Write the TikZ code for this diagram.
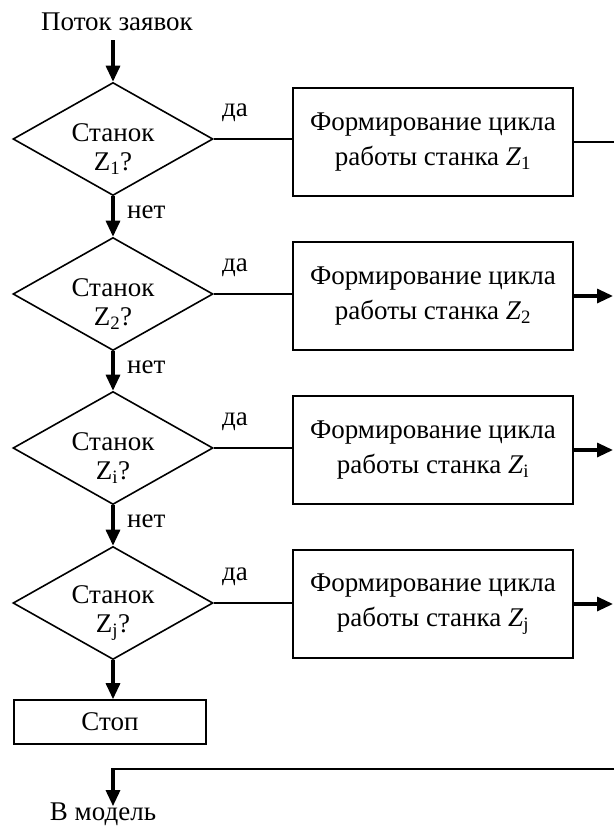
\documentclass[tikz,border=0pt]{standalone}
\usepackage{fontspec}
\setmainfont{Liberation Serif}
\usetikzlibrary{shapes.geometric,arrows.meta}
\begin{document}
\begin{tikzpicture}[x=1pt,y=-1pt,
  every node/.style={font=\fontsize{27}{35}\selectfont},
  decision/.style={draw, diamond, minimum width=200pt, minimum height=113pt,
    inner sep=0pt, line width=1.6pt},
  dlabel/.style={align=center, inner sep=0pt, font=\fontsize{27}{29}\selectfont},
  process/.style={draw, rectangle, minimum width=280pt, minimum height=108pt,
    line width=1.6pt, align=center},
  stopbox/.style={draw, rectangle, minimum width=192pt, minimum height=44pt,
    line width=1.6pt},
  tag/.style={inner sep=0pt},
  flow/.style={line width=3.2pt, -{Triangle[length=16pt,width=14pt]}},
  link/.style={line width=1.6pt}
]
\useasboundingbox (0,0) rectangle (614,827);

% input label
\node[tag, anchor=base] (src) at (117,30) {Поток заявок};

% decisions
\node[decision] (d1) at (113,139) {};
\node[decision] (d2) at (113,294) {};
\node[decision] (d3) at (113,448) {};
\node[decision] (d4) at (113,603) {};
\node[dlabel] (t1) at ([yshift=-10pt]d1.center) {Станок\\Z\textsubscript{1}?};
\node[dlabel] (t2) at ([yshift=-10pt]d2.center) {Станок\\Z\textsubscript{2}?};
\node[dlabel] (t3) at ([yshift=-10pt]d3.center) {Станок\\Z\textsubscript{i}?};
\node[dlabel] (t4) at ([yshift=-10pt]d4.center) {Станок\\Z\textsubscript{j}?};

% processing blocks
\node[process] (b1) at (433,142) {Формирование цикла\\работы станка \textit{Z}\textsubscript{1}};
\node[process] (b2) at (433,296) {Формирование цикла\\работы станка \textit{Z}\textsubscript{2}};
\node[process] (b3) at (433,450) {Формирование цикла\\работы станка \textit{Z}\textsubscript{i}};
\node[process] (b4) at (433,604) {Формирование цикла\\работы станка \textit{Z}\textsubscript{j}};

% stop block
\node[stopbox] (stop) at (110,722) {Стоп};

% output label
\node[tag, anchor=base] (dst) at (103,820) {В модель};

% right-hand collector
\coordinate (edge) at (614,0);
\coordinate (rin) at (614,769);
\coordinate (bend) at (113,769);

% main vertical flow
\draw[flow] (src.south -| d1.north) ++(0,10) coordinate (s0) -- (d1.north);
\draw[flow] (d1.south) -- (d2.north);
\draw[flow] (d2.south) -- (d3.north);
\draw[flow] (d3.south) -- (d4.north);
\draw[flow] (d4.south) -- (d4.south |- stop.north);

% yes branches
\draw[link] (d1.east) -- (d1.east -| b1.west);
\draw[link] (d2.east) -- (d2.east -| b2.west);
\draw[link] (d3.east) -- (d3.east -| b3.west);
\draw[link] (d4.east) -- (d4.east -| b4.west);

% block outputs
\draw[link] (b1.east) -- (b1.east -| edge);
\draw[flow] (b2.east) -- ([xshift=-1pt]b2.east -| edge);
\draw[flow] (b3.east) -- ([xshift=-1pt]b3.east -| edge);
\draw[flow] (b4.east) -- ([xshift=-1pt]b4.east -| edge);

% return to the model
\draw[line width=2pt] (rin) -- ([xshift=-1.6pt]bend);
\draw[flow] ([yshift=1pt]bend) -- ([yshift=-4pt]bend |- dst.north);

% branch labels
\node[tag, anchor=base west] (y1) at (222,116) {да};
\node[tag, anchor=base west] (y2) at (222,271) {да};
\node[tag, anchor=base west] (y3) at (222,425) {да};
\node[tag, anchor=base west] (y4) at (222,580) {да};
\node[tag, anchor=base west] (n1) at (127,218) {нет};
\node[tag, anchor=base west] (n2) at (127,373) {нет};
\node[tag, anchor=base west] (n3) at (127,527) {нет};
\end{tikzpicture}
\end{document}
